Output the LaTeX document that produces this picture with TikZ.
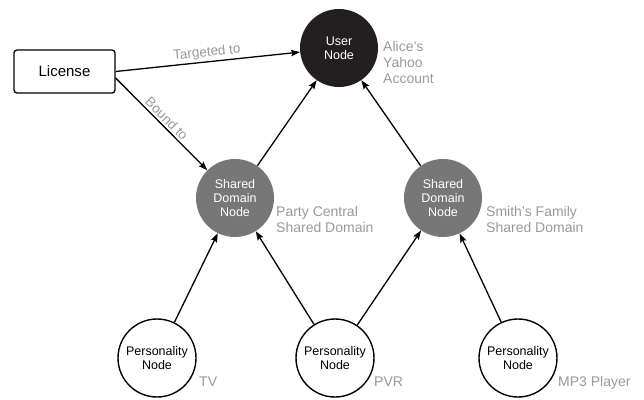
\documentclass[tikz,border=0pt]{standalone}
\usepackage{fontspec}
\setmainfont{Liberation Sans}
\usetikzlibrary{arrows.meta}
\definecolor{nodegray}{HTML}{777777}
\definecolor{notegray}{HTML}{999999}
\definecolor{usernode}{HTML}{231F20}
\tikzset{
  every picture/.style={x=1pt,y=-1pt},
  basecirc/.style={circle,minimum size=78pt,inner sep=0pt,align=center,
    font=\fontsize{12.5}{14}\selectfont},
  usercirc/.style={basecirc,fill=usernode,text=white},
  domaincirc/.style={basecirc,fill=nodegray,text=white},
  personcirc/.style={basecirc,draw=black,line width=1.4pt,fill=white},
  licbox/.style={draw=black,line width=1.3pt,rounded corners=3pt,
    minimum width=101pt,minimum height=43pt,font=\fontsize{15}{18}\selectfont},
  note/.style={text=notegray,align=left,anchor=north west,inner sep=0pt,
    font=\fontsize{14}{16}\selectfont},
  edgelabel/.style={text=notegray,font=\fontsize{13.5}{16}\selectfont,sloped,above,inner sep=2pt},
  arr/.style={line width=1.3pt,-{Stealth[length=9pt,width=6.5pt,inset=1.5pt]}}
}
\begin{document}
\begin{tikzpicture}
\useasboundingbox (0,0) rectangle (644,399);

% main nodes
\node[usercirc]   (user) at (339,48)  {User\\Node};
\node[licbox]     (lic)  at (64.5,71.5) {License};
\node[domaincirc] (sd1)  at (235,198) {Shared\\Domain\\Node};
\node[domaincirc] (sd2)  at (443,198) {Shared\\Domain\\Node};
\node[personcirc] (tv)   at (157,358) {Personality\\Node};
\node[personcirc] (pvr)  at (335,358) {Personality\\Node};
\node[personcirc] (mp3)  at (518,358) {Personality\\Node};

% annotations
\node[note] (nuser) at (383,41.5)  {Alice’s\\Yahoo\\Account};
\node[note] (nsd1)  at (276,206.5) {Party Central\\Shared Domain};
\node[note] (nsd2)  at (486,206.5) {Smith’s Family\\Shared Domain};
\node[note] (ntv)   at (199,376.5) {TV};
\node[note] (npvr)  at (374,376.5) {PVR};
\node[note] (nmp3)  at (558,376.5) {MP3 Player};

% connectors
\draw[arr] (lic.east) -- (user) node[edgelabel,midway] {Targeted to};
\draw[arr] ([yshift=-6.5pt]lic.east) -- (sd1) node[edgelabel,pos=0.5] {Bound to};
\draw[arr] (sd1) -- (user);
\draw[arr] (sd2) -- (user);
\draw[arr] (tv)  -- (sd1);
\draw[arr] (pvr) -- (sd1);
\draw[arr] (pvr) -- (sd2);
\draw[arr] (mp3) -- (sd2);
\end{tikzpicture}
\end{document}
